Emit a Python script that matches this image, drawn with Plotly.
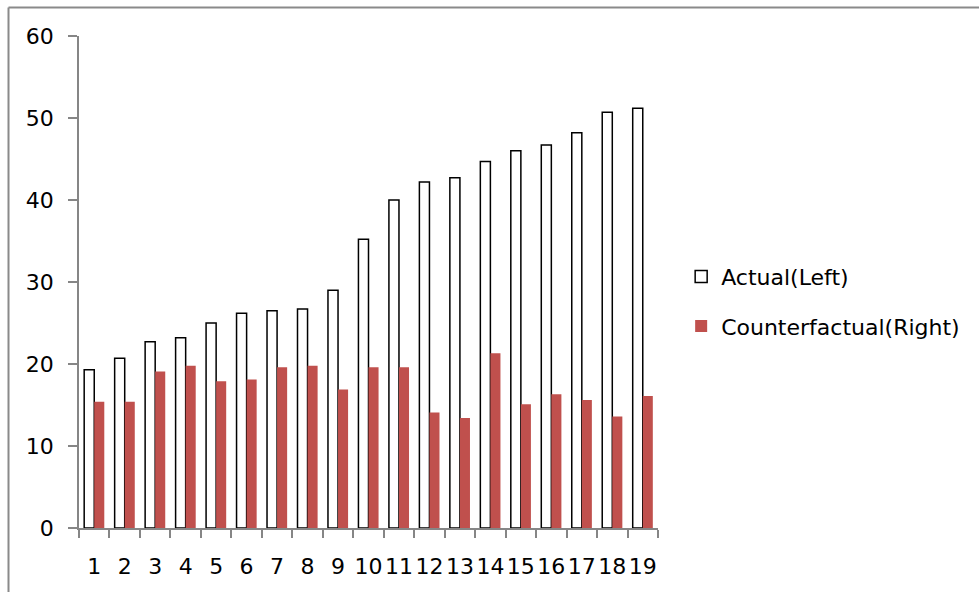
import plotly.graph_objects as go

# Period labels along the horizontal axis
periods = [str(i) for i in range(1, 20)]

# Series values
actual = [19.3, 20.7, 22.7, 23.2, 25.0, 26.2, 26.5, 26.7, 29.0, 35.2,
          40.0, 42.2, 42.7, 44.7, 46.0, 46.7, 48.2, 50.7, 51.2]
counterfactual = [15.4, 15.4, 19.1, 19.8, 17.9, 18.1, 19.6, 19.8, 16.9, 19.6,
                  19.6, 14.1, 13.4, 21.3, 15.1, 16.3, 15.6, 13.6, 16.1]

y_ticks = [0, 10, 20, 30, 40, 50, 60]

AXIS_GREY = "#868686"
RED = "#C0504D"
FONT = dict(family="DejaVu Sans", size=22, color="#000000")

fig = go.Figure()
fig.add_trace(go.Bar(
    x=periods, y=actual, name="Actual(Left)",
    marker=dict(color="#FFFFFF", line=dict(color="#000000", width=1.5)),
    legendgroup="a",
))
fig.add_trace(go.Bar(
    x=periods, y=counterfactual, name="Counterfactual(Right)",
    marker=dict(color=RED, line=dict(width=0)),
    legendgroup="b",
))

# Chart-area frame (top and left edges)
fx = (8.5 - 79) / 579
fy = 1 + (36 - 7.5) / 492
frame = dict(color="#8A8A8A", width=2)
fig.add_shape(type="line", xref="paper", yref="paper",
              x0=fx, x1=fx, y0=-0.2, y1=fy, line=frame, layer="above")
fig.add_shape(type="line", xref="paper", yref="paper",
              x0=fx, x1=1.7, y0=fy, y1=fy, line=frame, layer="above")

fig.update_layout(
    width=979, height=592,
    margin=dict(l=79, r=321, t=36, b=64),
    paper_bgcolor="#FFFFFF", plot_bgcolor="#FFFFFF",
    font=FONT,
    barmode="group", bargap=0.34, bargroupgap=0.0,
    showlegend=True,
    legend=dict(x=1.04, xanchor="left", y=0.46, yanchor="middle",
                font=FONT, tracegroupgap=18, traceorder="grouped",
                bgcolor="rgba(0,0,0,0)"),
    xaxis=dict(
        type="category", showgrid=False, zeroline=False,
        showline=True, linecolor=AXIS_GREY, linewidth=1.5,
        ticks="outside", tickson="boundaries", ticklen=8,
        tickcolor=AXIS_GREY, tickwidth=1.5, tickangle=0,
        ticklabelstandoff=18, tickfont=FONT,
    ),
    yaxis=dict(
        range=[0, 60], tickvals=y_ticks, showgrid=False, zeroline=False,
        showline=True, linecolor=AXIS_GREY, linewidth=1.5,
        ticks="outside", ticklen=9, tickcolor=AXIS_GREY, tickwidth=1.5,
        ticklabelstandoff=10, tickfont=FONT,
    ),
)

fig.write_html("out.html")
